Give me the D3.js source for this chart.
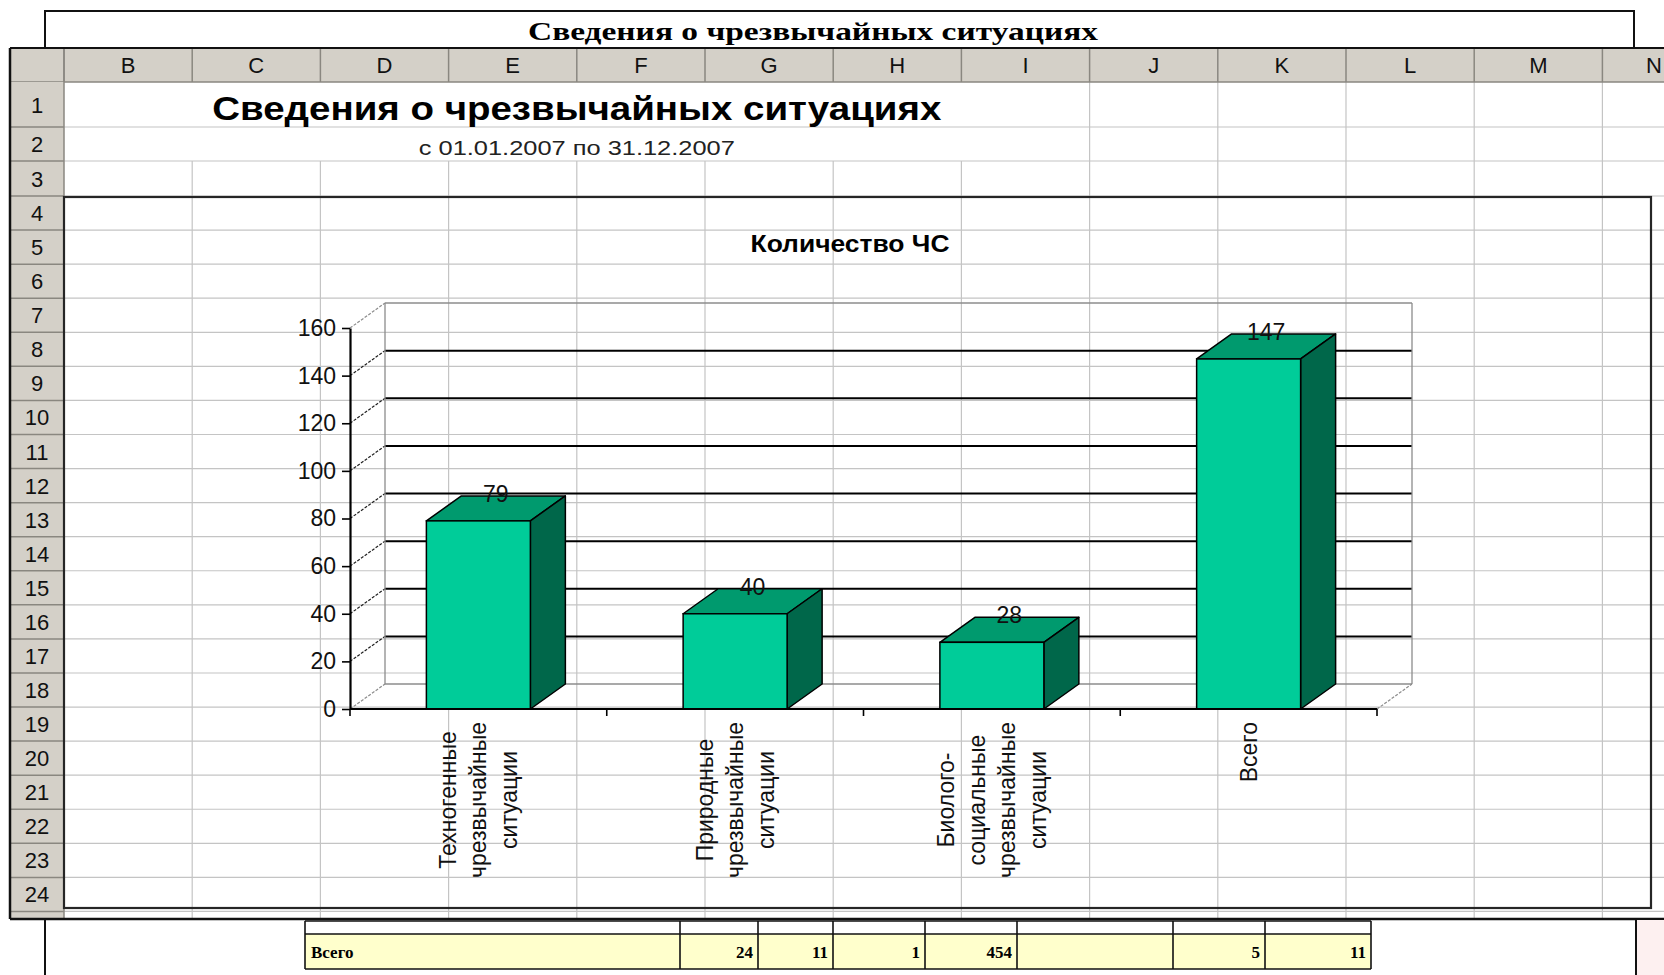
<!DOCTYPE html>
<html>
<head>
<meta charset="utf-8">
<script src="https://cdnjs.cloudflare.com/ajax/libs/d3/7.8.5/d3.min.js"></script>
<style>
  body { margin: 0; background: #fff; overflow: hidden; }
  svg { display: block; font-family: Arial, "Liberation Sans", sans-serif; }
</style>
</head>
<body>
<svg id="sheet"></svg>
<script>
// ---- data ----
const categories = [
    ["Техногенные", "чрезвычайные", "ситуации"],
    ["Природные", "чрезвычайные", "ситуации"],
    ["Биолого-", "социальные", "чрезвычайные", "ситуации"],
    ["Всего"]
];
const values = [79, 40, 28, 147];
const yTicks = [0, 20, 40, 60, 80, 100, 120, 140, 160];
const columnLetters = ["B", "C", "D", "E", "F", "G", "H", "I", "J", "K", "L", "M", "N"];
const rowNumbers = [1, 2, 3, 4, 5, 6, 7, 8, 9, 10, 11, 12, 13, 14, 15, 16, 17, 18, 19, 20, 21, 22, 23, 24, 25];
const totalLabel = "Всего";
const totalValues = ["24", "11", "1", "454", "", "5", "11"];

const sheetTitle = "Сведения о чрезвычайных ситуациях";
const sheetPeriod = "с 01.01.2007 по 31.12.2007";
const chartTitle = "Количество ЧС";

// ---- page / sheet geometry ----
var W = 1664, H = 975;
var sheetLeft = 10, sheetTop = 48, sheetBottom = 919;
var rowHeadRight = 64, colHeadBottom = 82;
var colStep = 128.2;
var headFill = "#d4d0c8", gridColor = "#c4c4c4";

var svg = d3.select("#sheet").attr("width", W).attr("height", H);

// column edges (B starts at rowHeadRight)
var colEdges = columnLetters.map((c, i) => rowHeadRight + i * colStep);
colEdges.push(rowHeadRight + columnLetters.length * colStep);

// row edges: row 1 is taller, then regular rows
var rowEdges = [colHeadBottom, 127, 161, 196];
for (var r = 4; r <= rowNumbers.length; r++) rowEdges.push(196 + (r - 3) * 34.07);

// clip for sheet body
svg.append("clipPath").attr("id", "sheetClip")
    .append("rect").attr("x", sheetLeft).attr("y", sheetTop)
    .attr("width", W - sheetLeft).attr("height", sheetBottom - sheetTop);

var sheet = svg.append("g").attr("clip-path", "url(#sheetClip)");

// cell grid lines
var mergedRight = colEdges[8]; // B..I merged in rows 1-2
rowEdges.slice(1).forEach(function (yy) {
    sheet.append("line").attr("x1", rowHeadRight).attr("x2", W)
        .attr("y1", yy).attr("y2", yy)
        .attr("stroke", gridColor).attr("stroke-width", 1.2);
});
colEdges.slice(1).forEach(function (xx) {
    var startY = (xx < mergedRight - 1) ? rowEdges[2] : colHeadBottom;
    sheet.append("line").attr("x1", xx).attr("x2", xx)
        .attr("y1", startY).attr("y2", sheetBottom)
        .attr("stroke", gridColor).attr("stroke-width", 1.2);
});

// column header
sheet.append("rect").attr("x", sheetLeft).attr("y", sheetTop)
    .attr("width", W - sheetLeft).attr("height", colHeadBottom - sheetTop)
    .attr("fill", headFill);
columnLetters.forEach(function (c, i) {
    sheet.append("line").attr("x1", colEdges[i]).attr("x2", colEdges[i])
        .attr("y1", sheetTop).attr("y2", colHeadBottom)
        .attr("stroke", "#8a8780").attr("stroke-width", 1.5);
    // last column is only partly on screen: keep its letter inside the page
    var cx = Math.min((colEdges[i] + colEdges[i + 1]) / 2, W - 10);
    sheet.append("text")
        .attr("x", cx).attr("y", 73)
        .attr("text-anchor", "middle").attr("font-size", 22).attr("fill", "#111")
        .text(c);
});
sheet.append("line").attr("x1", sheetLeft).attr("x2", W)
    .attr("y1", colHeadBottom).attr("y2", colHeadBottom)
    .attr("stroke", "#8a8780").attr("stroke-width", 1.5);

// row header
sheet.append("rect").attr("x", sheetLeft).attr("y", colHeadBottom)
    .attr("width", rowHeadRight - sheetLeft).attr("height", sheetBottom - colHeadBottom)
    .attr("fill", headFill);
rowNumbers.forEach(function (n, i) {
    var y0 = rowEdges[i], y1 = rowEdges[i + 1];
    sheet.append("line").attr("x1", sheetLeft).attr("x2", rowHeadRight)
        .attr("y1", y1).attr("y2", y1)
        .attr("stroke", "#8a8780").attr("stroke-width", 1.5);
    sheet.append("text")
        .attr("x", 37).attr("y", (y0 + y1) / 2 + 8)
        .attr("text-anchor", "middle").attr("font-size", 22).attr("fill", "#111")
        .text(n);
});
sheet.append("line").attr("x1", rowHeadRight).attr("x2", rowHeadRight)
    .attr("y1", sheetTop).attr("y2", sheetBottom)
    .attr("stroke", "#8a8780").attr("stroke-width", 1.5);

// sheet texts in merged B..I
var mergedCenter = (colEdges[0] + mergedRight) / 2;
sheet.append("text")
    .attr("x", mergedCenter).attr("y", 120)
    .attr("text-anchor", "middle").attr("font-size", 34).attr("font-weight", "bold")
    .attr("textLength", 729).attr("lengthAdjust", "spacingAndGlyphs")
    .text(sheetTitle);
sheet.append("text")
    .attr("x", mergedCenter).attr("y", 155)
    .attr("text-anchor", "middle").attr("font-size", 21).attr("fill", "#222")
    .attr("textLength", 316).attr("lengthAdjust", "spacingAndGlyphs")
    .text(sheetPeriod);

// ---- embedded 3D column chart ----
var chartBox = { x: 64, y: 197, w: 1587, h: 711 };
var chart = sheet.append("g");

chart.append("text")
    .attr("x", 850).attr("y", 252)
    .attr("text-anchor", "middle").attr("font-size", 23).attr("font-weight", "bold")
    .attr("textLength", 199).attr("lengthAdjust", "spacingAndGlyphs")
    .text(chartTitle);

var depth = { dx: 35, dy: -25 };
var x = d3.scaleBand().domain(d3.range(values.length)).range([350, 1377]);
var y = d3.scaleLinear().domain([0, 160]).range([709, 328]);
var barW = x.bandwidth() * 0.405;
var x0 = x.range()[0], x1 = x.range()[1];

// back wall and side wall gridlines
yTicks.forEach(function (t) {
    var edge = (t === 0 || t === 160);
    var col = edge ? "#8c8c8c" : "#000";
    chart.append("line")
        .attr("x1", x0 + depth.dx).attr("x2", x1 + depth.dx)
        .attr("y1", y(t) + depth.dy).attr("y2", y(t) + depth.dy)
        .attr("stroke", col).attr("stroke-width", edge ? 1.3 : 2);
    chart.append("line")
        .attr("x1", x0).attr("x2", x0 + depth.dx)
        .attr("y1", y(t)).attr("y2", y(t) + depth.dy)
        .attr("stroke", edge ? "#8c8c8c" : "#222").attr("stroke-width", 1.2)
        .attr("stroke-dasharray", "3,1.5");
});
// wall edges
chart.append("line")
    .attr("x1", x0 + depth.dx).attr("x2", x0 + depth.dx)
    .attr("y1", y(160) + depth.dy).attr("y2", y(0) + depth.dy)
    .attr("stroke", "#8c8c8c").attr("stroke-width", 1.3);
chart.append("line")
    .attr("x1", x1 + depth.dx).attr("x2", x1 + depth.dx)
    .attr("y1", y(160) + depth.dy).attr("y2", y(0) + depth.dy)
    .attr("stroke", "#8c8c8c").attr("stroke-width", 1.3);
chart.append("line")
    .attr("x1", x1).attr("x2", x1 + depth.dx)
    .attr("y1", y(0)).attr("y2", y(0) + depth.dy)
    .attr("stroke", "#8c8c8c").attr("stroke-width", 1.2)
    .attr("stroke-dasharray", "3,1.5");

// bars
var bars = chart.selectAll(".bar").data(values).enter().append("g").attr("class", "bar");
function barX(d, i) { return x(i) + (x.bandwidth() - barW) / 2; }

bars.append("polygon") // top face
    .attr("points", function (d, i) {
        var bx = barX(d, i), t = y(d);
        return [[bx, t], [bx + depth.dx, t + depth.dy], [bx + barW + depth.dx, t + depth.dy], [bx + barW, t]].join(" ");
    })
    .attr("fill", "#009a6e").attr("stroke", "#000").attr("stroke-width", 1.5).attr("stroke-linejoin", "round");
bars.append("polygon") // side face
    .attr("points", function (d, i) {
        var bx = barX(d, i) + barW, t = y(d), b = y(0);
        return [[bx, t], [bx + depth.dx, t + depth.dy], [bx + depth.dx, b + depth.dy], [bx, b]].join(" ");
    })
    .attr("fill", "#00674a").attr("stroke", "#000").attr("stroke-width", 1.5).attr("stroke-linejoin", "round");
bars.append("rect") // front face
    .attr("x", barX).attr("y", d => y(d))
    .attr("width", barW).attr("height", d => y(0) - y(d))
    .attr("fill", "#00cc99").attr("stroke", "#000").attr("stroke-width", 1.5);

// value labels
chart.selectAll(".val").data(values).enter().append("text")
    .attr("class", "val")
    .attr("x", (d, i) => x(i) + x.bandwidth() / 2 + depth.dx / 2)
    .attr("y", d => y(d) + depth.dy - 2)
    .attr("dy", "0.35em")
    .attr("text-anchor", "middle").attr("font-size", 23).attr("fill", "#111")
    .text(d => d);

// y axis
var yAxis = chart.append("g")
    .attr("transform", "translate(" + x0 + ",0)")
    .call(d3.axisLeft(y).tickValues(yTicks).tickSize(8).tickSizeOuter(0).tickPadding(6));
yAxis.select(".domain").attr("stroke", "#000").attr("stroke-width", 2.2);
yAxis.selectAll(".tick line").attr("stroke", "#000").attr("stroke-width", 1.6);
yAxis.selectAll(".tick text").attr("font-size", 23).attr("font-family", "Arial, 'Liberation Sans', sans-serif").attr("fill", "#111");

// x axis (category axis)
chart.append("line")
    .attr("x1", x0).attr("x2", x1).attr("y1", y(0)).attr("y2", y(0))
    .attr("stroke", "#000").attr("stroke-width", 2.2);
var edges = x.domain().map(i => x(i)).concat([x1]);
chart.selectAll(".xtick").data(edges).enter().append("line")
    .attr("x1", d => d).attr("x2", d => d)
    .attr("y1", y(0)).attr("y2", y(0) + 7)
    .attr("stroke", "#000").attr("stroke-width", 1.6);

// category labels, rotated, lines centred within each label block
var lineGap = 30.5, labelTop = 722;
categories.forEach(function (lines, i) {
    var cx = x(i) + x.bandwidth() / 2;
    var g = chart.append("g");
    var texts = lines.map(function (s, j) {
        return g.append("text")
            .attr("font-size", 23).attr("fill", "#111")
            .attr("text-anchor", "middle").attr("dy", "0.35em")
            .text(s);
    });
    var maxLen = d3.max(texts, t => t.node().getComputedTextLength());
    var cy = labelTop + maxLen / 2;
    texts.forEach(function (t, j) {
        var lx = cx + (j - (lines.length - 1) / 2) * lineGap;
        t.attr("transform", "translate(" + lx + "," + cy + ") rotate(-90)");
    });
});

// chart area border
chart.append("rect")
    .attr("x", chartBox.x).attr("y", chartBox.y)
    .attr("width", chartBox.w).attr("height", chartBox.h)
    .attr("fill", "none").attr("stroke", "#262626").attr("stroke-width", 2.2);

// sheet frame
svg.append("line").attr("x1", sheetLeft).attr("x2", W).attr("y1", sheetTop).attr("y2", sheetTop)
    .attr("stroke", "#111").attr("stroke-width", 2);
svg.append("line").attr("x1", sheetLeft).attr("x2", sheetLeft).attr("y1", sheetTop).attr("y2", sheetBottom)
    .attr("stroke", "#111").attr("stroke-width", 2.5);
svg.append("line").attr("x1", sheetLeft).attr("x2", W).attr("y1", sheetBottom).attr("y2", sheetBottom)
    .attr("stroke", "#111").attr("stroke-width", 2.5);

// page heading box above the sheet
svg.append("rect").attr("x", 45).attr("y", 11).attr("width", 1589).attr("height", 37)
    .attr("fill", "none").attr("stroke", "#111").attr("stroke-width", 2);
svg.append("text")
    .attr("x", 813).attr("y", 40)
    .attr("text-anchor", "middle").attr("font-size", 25).attr("font-weight", "bold")
    .attr("font-family", "'Liberation Serif', 'Times New Roman', serif")
    .attr("textLength", 570).attr("lengthAdjust", "spacingAndGlyphs")
    .text(sheetTitle);

// ---- page below the sheet ----
svg.append("line").attr("x1", 45).attr("x2", 45).attr("y1", sheetBottom).attr("y2", H)
    .attr("stroke", "#111").attr("stroke-width", 2);
svg.append("rect").attr("x", 1637).attr("y", sheetBottom + 1).attr("width", W - 1637).attr("height", H - sheetBottom)
    .attr("fill", "#fdf0f0");
svg.append("line").attr("x1", 1636).attr("x2", 1636).attr("y1", sheetBottom).attr("y2", H)
    .attr("stroke", "#111").attr("stroke-width", 2);

// totals table fragment
var tableEdges = [305, 680, 758, 833, 925, 1017, 1173, 1265, 1371];
var tTop = 921, tMid = 934, tBot = 969;
svg.append("rect").attr("x", tableEdges[0]).attr("y", tMid)
    .attr("width", tableEdges[tableEdges.length - 1] - tableEdges[0]).attr("height", tBot - tMid)
    .attr("fill", "#ffffcc");
[tTop, tMid, tBot].forEach(function (yy) {
    svg.append("line").attr("x1", tableEdges[0]).attr("x2", tableEdges[tableEdges.length - 1])
        .attr("y1", yy).attr("y2", yy).attr("stroke", "#111").attr("stroke-width", 1.6);
});
tableEdges.forEach(function (xx) {
    svg.append("line").attr("x1", xx).attr("x2", xx).attr("y1", tTop).attr("y2", tBot)
        .attr("stroke", "#111").attr("stroke-width", 1.6);
});
svg.append("text")
    .attr("x", tableEdges[0] + 6).attr("y", 958)
    .attr("font-family", "'Liberation Serif', 'Times New Roman', serif")
    .attr("font-weight", "bold").attr("font-size", 17)
    .text(totalLabel);
totalValues.forEach(function (v, i) {
    svg.append("text")
        .attr("x", tableEdges[i + 2] - 5).attr("y", 958)
        .attr("text-anchor", "end")
        .attr("font-family", "'Liberation Serif', 'Times New Roman', serif")
        .attr("font-weight", "bold").attr("font-size", 17)
        .text(v);
});
</script>
</body>
</html>
